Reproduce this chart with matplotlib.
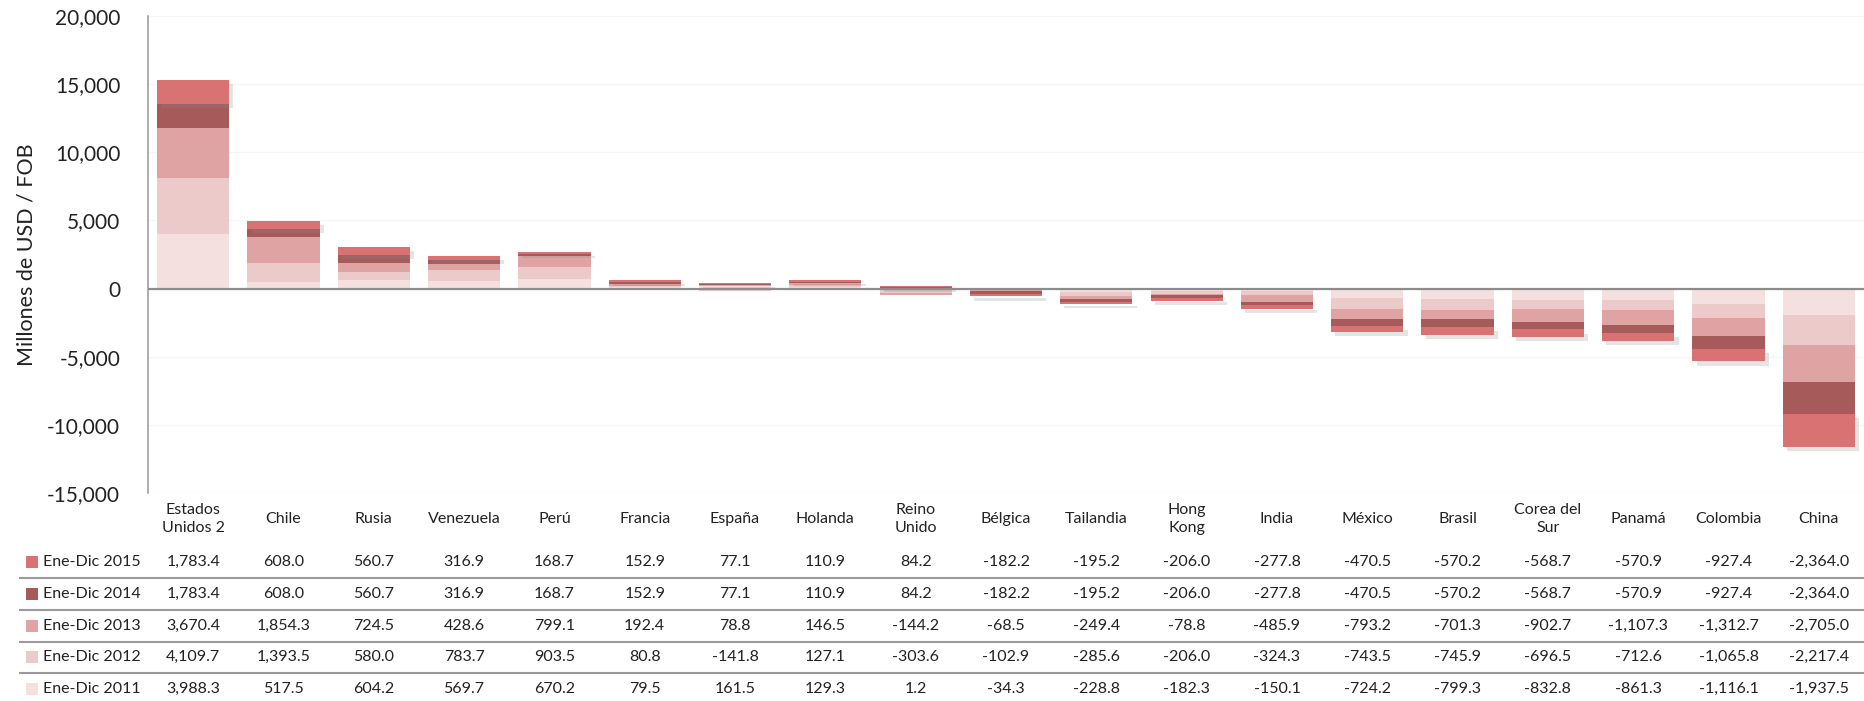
import matplotlib
matplotlib.use("Agg")
import matplotlib.pyplot as plt
import matplotlib.patheffects as pe
from matplotlib.transforms import blended_transform_factory
from matplotlib.patches import Rectangle
from matplotlib.lines import Line2D
import numpy as np

# datos
paises = ["Estados\nUnidos 2", "Chile", "Rusia", "Venezuela", "Perú", "Francia", "España",
          "Holanda", "Reino\nUnido", "Bélgica", "Tailandia", "Hong\nKong", "India", "México",
          "Brasil", "Corea del\nSur", "Panamá", "Colombia", "China"]

v2015 = [1783.4, 608.0, 560.7, 316.9, 168.7, 152.9, 77.1, 110.9, 84.2, -182.2, -195.2,
         -206.0, -277.8, -470.5, -570.2, -568.7, -570.9, -927.4, -2364.0]
v2014 = [1783.4, 608.0, 560.7, 316.9, 168.7, 152.9, 77.1, 110.9, 84.2, -182.2, -195.2,
         -206.0, -277.8, -470.5, -570.2, -568.7, -570.9, -927.4, -2364.0]
v2013 = [3670.4, 1854.3, 724.5, 428.6, 799.1, 192.4, 78.8, 146.5, -144.2, -68.5, -249.4,
         -78.8, -485.9, -793.2, -701.3, -902.7, -1107.3, -1312.7, -2705.0]
v2012 = [4109.7, 1393.5, 580.0, 783.7, 903.5, 80.8, -141.8, 127.1, -303.6, -102.9, -285.6,
         -206.0, -324.3, -743.5, -745.9, -696.5, -712.6, -1065.8, -2217.4]
v2011 = [3988.3, 517.5, 604.2, 569.7, 670.2, 79.5, 161.5, 129.3, 1.2, -34.3, -228.8,
         -182.3, -150.1, -724.2, -799.3, -832.8, -861.3, -1116.1, -1937.5]

series = ["Ene-Dic 2011", "Ene-Dic 2012", "Ene-Dic 2013", "Ene-Dic 2014", "Ene-Dic 2015"]
valores = [v2011, v2012, v2013, v2014, v2015]
colores = ["#F5E0E0", "#EDCACA", "#DFA3A3", "#A65A5A", "#D97373"]

plt.rcParams['font.family'] = ['Lato', 'DejaVu Sans']

fig = plt.figure(figsize=(18.64, 7.01), dpi=100)
ax = fig.add_axes([0.0794, 0.2967, 0.9206, 0.6805])

x = np.arange(len(paises))
pos_base = np.zeros(len(paises))
neg_base = np.zeros(len(paises))
for nombre, vals, col in zip(series, valores, colores):
    vals = np.array(vals)
    base = np.where(vals >= 0, pos_base, neg_base)
    bars = ax.bar(x, vals, 0.8, bottom=base, color=col, linewidth=0, zorder=3)
    if nombre.endswith("2015"):
        # sombra suave como en Excel
        for b in bars:
            b.set_path_effects([pe.SimplePatchShadow(offset=(3, -3), shadow_rgbFace='#888888', alpha=0.22),
                                pe.Normal()])
    pos_base = pos_base + np.where(vals >= 0, vals, 0)
    neg_base = neg_base + np.where(vals < 0, vals, 0)

ax.set_xlim(-0.5, len(paises) - 0.5)
ax.set_ylim(-15000, 20000)
ax.set_yticks(range(-15000, 20001, 5000))
ax.yaxis.set_major_formatter(matplotlib.ticker.FuncFormatter(lambda v, p: f"{v:,.0f}"))
ax.tick_params(axis='y', length=0, labelsize=15, labelcolor='#222222', pad=20)
ax.set_xticks([])
ax.grid(axis='y', color='#F5F5F5', linewidth=1, zorder=0)
for s in ['top', 'right', 'bottom']:
    ax.spines[s].set_visible(False)
ax.spines['left'].set_color('#A0A0A0')
ax.spines['left'].set_linewidth(1.2)
ax.axhline(0, color='#8C8C8C', linewidth=1.6, zorder=4)
ax.set_ylabel("Millones de USD / FOB", fontsize=15.5, color='#222222', labelpad=8)

# tabla de datos
tr = blended_transform_factory(ax.transData, fig.transFigure)
for i, p in enumerate(paises):
    ax.text(i, 1 - 519 / 701, p, transform=tr, ha='center', va='center', fontsize=11.5,
            color='#222222', linespacing=1.3, clip_on=False)

filas_y = [562, 594, 626, 657, 689]
for k, (nombre, vals, col) in enumerate(zip(series[::-1], valores[::-1], colores[::-1])):
    fy = 1 - filas_y[k] / 701
    fig.patches.append(Rectangle((26 / 1864, fy - 6 / 701), 12 / 1864, 12 / 701,
                                 transform=fig.transFigure, facecolor=col, edgecolor='none'))
    fig.text(43 / 1864, fy, nombre, ha='left', va='center', fontsize=11.5, color='#222222')
    for i, v in enumerate(vals):
        ax.text(i, fy, f"{v:,.1f}", transform=tr, ha='center', va='center', fontsize=11.5,
                color='#222222', clip_on=False)

for ly in [578, 610, 642, 673]:
    fig.lines.append(Line2D([20 / 1864, 1.0], [1 - ly / 701] * 2, transform=fig.transFigure,
                            color='#9A9A9A', linewidth=1.5))

fig.savefig("out.png", dpi=100)
